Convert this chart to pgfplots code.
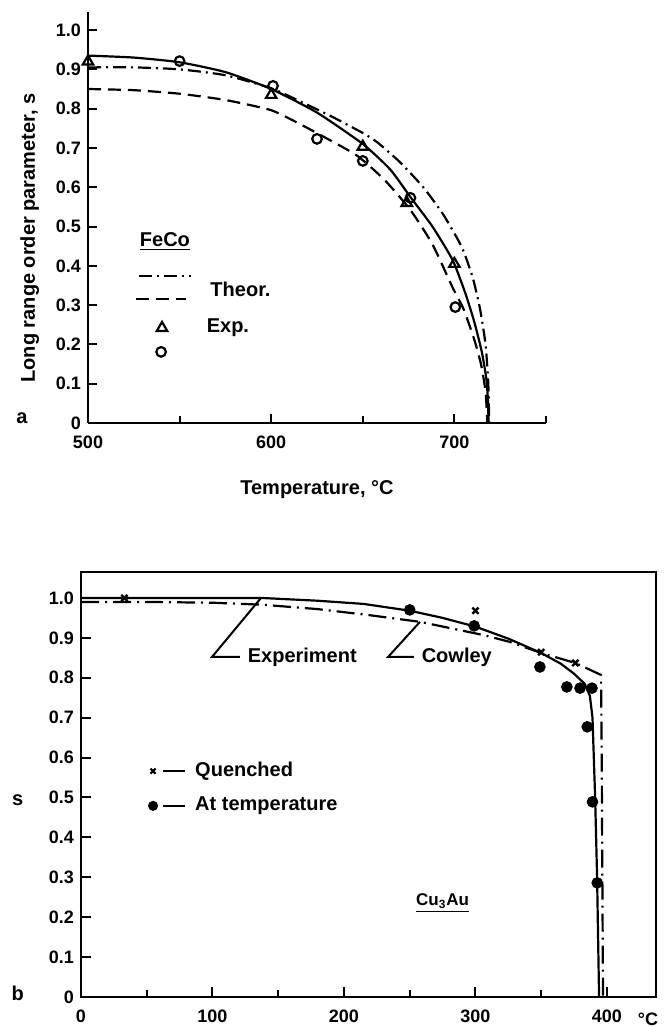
\documentclass[border=0pt]{standalone}
\usepackage{fontspec}
\setmainfont{Liberation Sans}
\usepackage{pgfplots}
\pgfplotsset{compat=1.18}
\tikzset{
  theordd/.style={line width=1.1pt, dash pattern=on 6.5pt off 2.5pt on 1pt off 2.5pt},
  theordash/.style={line width=1.1pt, dash pattern=on 6.5pt off 3.5pt},
  cowley/.style={line width=1.1pt, dash pattern=on 9pt off 3pt on 1pt off 3pt},
}
\begin{document}
\begin{tikzpicture}
\path[use as bounding box] (0,0) rectangle (332.5pt,513.5pt);
% ---------------- (a) FeCo ----------------
\begin{axis}[
  at={(44pt,302pt)}, anchor=south west,
  scale only axis, width=229pt, height=205.5pt,
  xmin=500, xmax=750, ymin=0, ymax=1.046,
  axis x line*=bottom, axis y line*=left,
  axis line style={-, line width=1.2pt},
  tick align=inside,
  xtick={500,600,700}, xticklabels={500,600,700},
  minor xtick={550,650,750},
  ytick={0,0.1,0.2,0.3,0.4,0.5,0.6,0.7,0.8,0.9,1.0},
  yticklabels={0,0.1,0.2,0.3,0.4,0.5,0.6,0.7,0.8,0.9,1.0},
  major tick length=4.5pt, minor tick length=3.5pt,
  every tick/.style={black, line width=1pt},
  /pgf/number format/assume math mode=true,
  ticklabel style={font=\bfseries\fontsize{9}{10}\selectfont},
  xticklabel style={yshift=-3pt},
  clip=false,
]
% Experimental fit (solid)
\addplot[black, line width=1.1pt, smooth, tension=0.35] coordinates {
(500,0.935)(525,0.930)(550,0.918)(575,0.893)(600,0.850)(625,0.790)(650,0.710)(665,0.645)(676,0.575)(688,0.500)(699,0.415)(706,0.330)(711,0.255)(715,0.180)(717.5,0.110)(718.4,0.050)(718.6,0)};
% Theory dash-dot
\addplot[black, theordd, smooth, tension=0.35] coordinates {
(500,0.905)(525,0.905)(550,0.900)(575,0.885)(600,0.852)(616,0.818)(633,0.780)(650,0.738)(658,0.714)(670,0.665)(683,0.600)(694,0.530)(704,0.448)(710,0.370)(714,0.290)(717,0.200)(718.5,0.100)(719,0)};
% Theory dashed
\addplot[black, theordash, smooth, tension=0.35] coordinates {
(500,0.850)(525,0.847)(550,0.838)(575,0.822)(600,0.796)(616,0.760)(630,0.725)(647,0.680)(662,0.618)(676,0.542)(688,0.455)(699,0.345)(705,0.290)(711,0.210)(714.5,0.150)(717,0.080)(718,0)};
% Exp. triangles
\addplot[black, only marks, mark=triangle, mark size=3pt, mark options={line width=1.1pt}] coordinates {
(500,0.920)(600,0.835)(650,0.703)(674,0.560)(700,0.405)};
% Exp. circles
\addplot[black, only marks, mark=o, mark size=2.4pt, mark options={line width=1.1pt}] coordinates {
(550,0.921)(601,0.858)(625,0.723)(650,0.667)(676,0.573)(700.5,0.295)};
% legend
\addplot[black, theordd, forget plot] coordinates {(527.8,0.374)(556.2,0.374)};
\addplot[black, theordash, forget plot] coordinates {(526.2,0.316)(553.5,0.316)};
\addplot[black, only marks, mark=triangle, mark size=3pt, mark options={line width=1.1pt}, forget plot] coordinates {(540.4,0.242)};
\addplot[black, only marks, mark=o, mark size=2.4pt, mark options={line width=1.1pt}, forget plot] coordinates {(539.9,0.181)};
\node[anchor=center, font=\bfseries\fontsize{10}{12}\selectfont] at (axis cs:542,0.462) {\underline{FeCo}};
\node[anchor=west, font=\bfseries\fontsize{10}{12}\selectfont] at (axis cs:563,0.341) {Theor.};
\node[anchor=west, font=\bfseries\fontsize{10}{12}\selectfont] at (axis cs:561,0.242) {Exp.};
\node[rotate=90, font=\bfseries\fontsize{10}{12}\selectfont] at (axis description cs:-0.127,0.45) {Long range order parameter, s};
\node[font=\bfseries\fontsize{10}{12}\selectfont] at (axis description cs:0.5,-0.163) {Temperature, °C};
\node[font=\bfseries\fontsize{10}{12}\selectfont] at (axis description cs:-0.144,0.012) {a};
\end{axis}
% ---------------- (b) Cu3Au ----------------
\begin{axis}[
  at={(40.5pt,15pt)}, anchor=south west,
  scale only axis, width=287.5pt, height=212.5pt,
  xmin=0, xmax=437.3, ymin=0, ymax=1.065,
  axis line style={line width=1.2pt},
  xtick pos=left, ytick pos=left,
  tick align=inside,
  xtick={0,100,200,300,400}, xticklabels={0,100,200,300,400},
  minor xtick={50,150,250,350},
  ytick={0,0.1,0.2,0.3,0.4,0.5,0.6,0.7,0.8,0.9,1.0},
  yticklabels={0,0.1,0.2,0.3,0.4,0.5,0.6,0.7,0.8,0.9,1.0},
  major tick length=5pt, minor tick length=3.5pt,
  every tick/.style={black, line width=1pt},
  /pgf/number format/assume math mode=true,
  ticklabel style={font=\bfseries\fontsize{9}{10}\selectfont},
  xticklabel style={yshift=-3pt},
  clip=false,
]
% Experiment (solid)
\addplot[black, line width=1.1pt] coordinates {
(0,1.0)(50,1.0)(100,1.0)(137,1.0)(180,0.993)(215,0.985)(250,0.968)(275,0.950)(300,0.928)(325,0.898)(350,0.862)(365,0.835)(375,0.810)(383,0.785)(387,0.755)(389,0.700)(390,0.600)(391,0.500)(392.5,0.300)(393.5,0.100)(394,0)};
% Cowley (dash-dot)
\addplot[black, cowley] coordinates {
(0,0.990)(50,0.990)(100,0.988)(138,0.983)(180,0.972)(219,0.957)(258,0.940)(290,0.918)(306,0.907)(326,0.890)(350,0.862)(376,0.837)(395.5,0.807)(396,0.600)(396.5,0.300)(397,0)};
% Quenched
\addplot[black, only marks, mark=x, mark size=2.2pt, mark options={line width=1.2pt}] coordinates {
(33,1.0)(300,0.968)(350,0.864)(376,0.837)};
% At temperature
\addplot[black, only marks, mark=*, mark size=2.7pt] coordinates {
(250,0.970)(299,0.930)(349,0.827)(369.5,0.777)(379.5,0.774)(388.6,0.774)(385,0.677)(389,0.489)(392.6,0.286)};
% leader lines
\addplot[black, line width=1pt, forget plot] coordinates {(136.9,1.0)(99.6,0.852)(120.9,0.852)};
\addplot[black, line width=1pt, forget plot] coordinates {(257.8,0.940)(233.5,0.852)(253.2,0.852)};
\node[anchor=west, font=\bfseries\fontsize{10}{12}\selectfont] at (axis cs:121.5,0.852) {Experiment};
\node[anchor=west, font=\bfseries\fontsize{10}{12}\selectfont] at (axis cs:253.8,0.852) {Cowley};
% legend
\addplot[black, only marks, mark=x, mark size=1.8pt, mark options={line width=1.1pt}, forget plot] coordinates {(54.8,0.566)};
\addplot[black, line width=1pt, forget plot] coordinates {(62.4,0.566)(79.1,0.566)};
\addplot[black, only marks, mark=*, mark size=2.3pt, forget plot] coordinates {(54.8,0.479)};
\addplot[black, line width=1pt, forget plot] coordinates {(62.4,0.479)(79.1,0.479)};
\node[anchor=west, font=\bfseries\fontsize{10}{12}\selectfont] at (axis cs:81.5,0.566) {Quenched};
\node[anchor=west, font=\bfseries\fontsize{10}{12}\selectfont] at (axis cs:81.5,0.479) {At temperature};
\node[font=\bfseries\fontsize{8.5}{10}\selectfont] at (axis cs:275,0.236) {\underline{Cu\textsubscript{3}Au}};
\node[font=\bfseries\fontsize{10}{12}\selectfont] at (axis description cs:-0.110,0.464) {s};
\node[font=\bfseries\fontsize{10}{12}\selectfont] at (axis description cs:-0.110,0.009) {b};
\node[font=\bfseries\fontsize{9}{10}\selectfont] at (axis description cs:0.986,-0.052) {°C};
\end{axis}
\end{tikzpicture}
\end{document}
